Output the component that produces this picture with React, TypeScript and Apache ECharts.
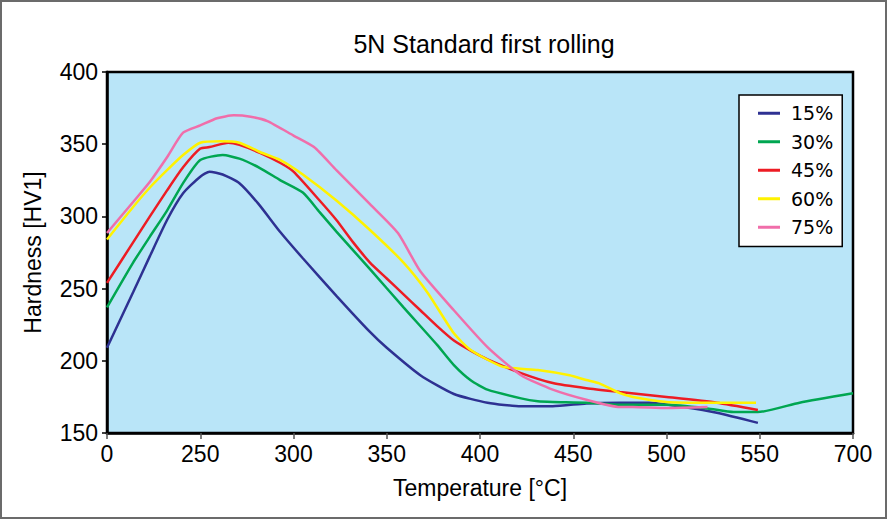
import React, { useEffect, useRef } from "react";
import * as echarts from "echarts";

const xTickLabels = ["0", "250", "300", "350", "400", "450", "500", "550", "700"];
const seriesNames = ["15%", "30%", "45%", "60%", "75%"];
const seriesColors = ["#2e3192", "#00a651", "#ed1c24", "#fff200", "#f06eaa"];

const t15 = [0, 70, 115, 161, 204, 250, 255, 262, 271, 281, 293, 305, 323, 341, 350, 368, 386, 404, 422, 439, 457, 475, 491, 509, 527, 549];
const h15 = [209, 247.5, 272.5, 297.5, 316, 327.5, 331, 329, 323, 309, 289, 271, 245, 220, 209, 190, 177, 171, 168.5, 168.5, 170.5, 171, 171, 168, 164, 157];

const t30 = [0, 70, 115, 161, 204, 250, 262, 271, 282, 293, 305, 314, 323, 341, 359, 377, 386, 395, 404, 422, 431, 439, 457, 475, 500, 522, 536, 549, 614, 700];
const h30 = [237, 268, 286, 304, 323, 339, 342.5, 340, 333.5, 325, 316.5, 303, 289.5, 263.5, 237, 211, 197, 186.5, 180, 174, 172, 171.5, 171, 169.5, 169.5, 167, 164.5, 164.5, 171, 177.5];

const t45 = [0, 70, 115, 161, 204, 250, 255, 265, 271, 282, 293, 300, 314, 323, 332, 341, 350, 359, 368, 377, 386, 395, 404, 422, 439, 457, 475, 500, 527, 549];
const h45 = [254, 282, 300, 318, 334, 347, 348, 351, 349.5, 344, 337, 331, 311, 297.5, 282, 268, 257, 246, 235, 224, 214, 207, 201, 191.5, 184.6, 181, 178.4, 175, 171, 166];

const t60 = [0, 70, 115, 161, 204, 250, 261, 271, 282, 293, 305, 323, 341, 359, 372, 386, 395, 412, 431, 448, 457, 464, 475, 482, 500, 518, 548];
const h60 = [284, 306.5, 320, 332, 342.5, 351, 352, 351, 344.6, 339, 329, 311, 290.6, 268, 247, 219, 207.5, 196, 193.6, 190, 186.7, 184.4, 177.6, 175, 171.5, 171, 171];

const t75 = [0, 70, 115, 161, 204, 250, 259, 268, 277, 286, 300, 311, 323, 341, 356, 368, 386, 404, 422, 439, 457, 475, 482, 500, 522];
const h75 = [288.5, 310, 324, 341, 358, 363, 368, 370, 369, 366, 356, 348, 332, 308.5, 288.5, 262, 235, 209.5, 190, 180, 173, 168, 168, 167.3, 168];

const temps = [t15, t30, t45, t60, t75];
const hards = [h15, h30, h45, h60, h75];

// The original x axis is piecewise: 0–250, then 50° steps to 550, then 550–700.
function axisPos(t: number): number {
  if (t <= 250) return t / 250;
  if (t <= 550) return 1 + (t - 250) / 50;
  return 7 + (t - 550) / 150;
}

const FONT = "'Liberation Sans', Arial, Helvetica, sans-serif";
const LEGEND_FONT = "'DejaVu Sans', Verdana, sans-serif";

export default function App() {
  const ref = useRef<HTMLDivElement>(null);
  useEffect(() => {
    if (!ref.current) return;
    const chart = echarts.init(ref.current, null, { renderer: "svg" });
    chart.setOption({
      animation: false,
      backgroundColor: "#ffffff",
      title: {
        text: "5N Standard first rolling",
        left: 479,
        top: 26,
        textAlign: "center",
        textStyle: { fontFamily: FONT, fontSize: 25, fontWeight: "normal", color: "#000" },
      },
      graphic: [
        {
          type: "rect",
          silent: true,
          z: -10,
          shape: { x: 1, y: 1, width: 885, height: 517 },
          style: { fill: "none", stroke: "#6b6b6b", lineWidth: 2 },
        },
      ],
      grid: {
        left: 107,
        right: 35,
        top: 72,
        bottom: 87,
        show: true,
        backgroundColor: "#b9e5f8",
        borderColor: "#000",
        borderWidth: 2.5,
      },
      legend: {
        data: seriesNames,
        orient: "vertical",
        left: 739,
        top: 95,
        padding: [8, 9, 9, 19],
        backgroundColor: "#ffffff",
        borderColor: "#000",
        borderWidth: 1.5,
        icon: "rect",
        itemWidth: 22,
        itemHeight: 3,
        itemGap: 8,
        textStyle: { fontFamily: LEGEND_FONT, fontSize: 19, color: "#000", lineHeight: 20.5, padding: [0, 0, 0, 6] },
      },
      xAxis: {
        type: "value",
        min: 0,
        max: 8,
        interval: 1,
        name: "Temperature [°C]",
        nameLocation: "middle",
        nameGap: 43,
        nameTextStyle: { fontFamily: FONT, fontSize: 23, color: "#000" },
        axisLine: { show: true, lineStyle: { color: "#000", width: 2.5 } },
        axisTick: { show: true, length: 6, lineStyle: { color: "#555", width: 1.5 } },
        axisLabel: {
          fontFamily: FONT,
          fontSize: 23,
          color: "#000",
          margin: 9,
          formatter: (v: number) => xTickLabels[Math.round(v)] ?? "",
        },
        splitLine: { show: false },
      },
      yAxis: {
        type: "value",
        min: 150,
        max: 400,
        interval: 50,
        name: "Hardness [HV1]",
        nameLocation: "middle",
        nameGap: 63,
        nameTextStyle: { fontFamily: FONT, fontSize: 23, color: "#000" },
        axisLine: { show: true, lineStyle: { color: "#000", width: 2.5 } },
        axisTick: { show: true, length: 5, lineStyle: { color: "#000", width: 1.5 } },
        axisLabel: { fontFamily: FONT, fontSize: 23, color: "#000", margin: 9 },
        splitLine: { show: false },
      },
      series: seriesNames.map((name, i) => ({
        name,
        type: "line",
        smooth: 0.2,
        showSymbol: false,
        color: seriesColors[i],
        lineStyle: { width: 2.5, color: seriesColors[i] },
        data: temps[i].map((t, j) => [axisPos(t), hards[i][j]]),
      })),
    });
    return () => chart.dispose();
  }, []);
  return (
    <div
      ref={ref}
      style={{ position: "fixed", left: 0, top: 0, width: 888, height: 520, background: "#fff" }}
    />
  );
}
